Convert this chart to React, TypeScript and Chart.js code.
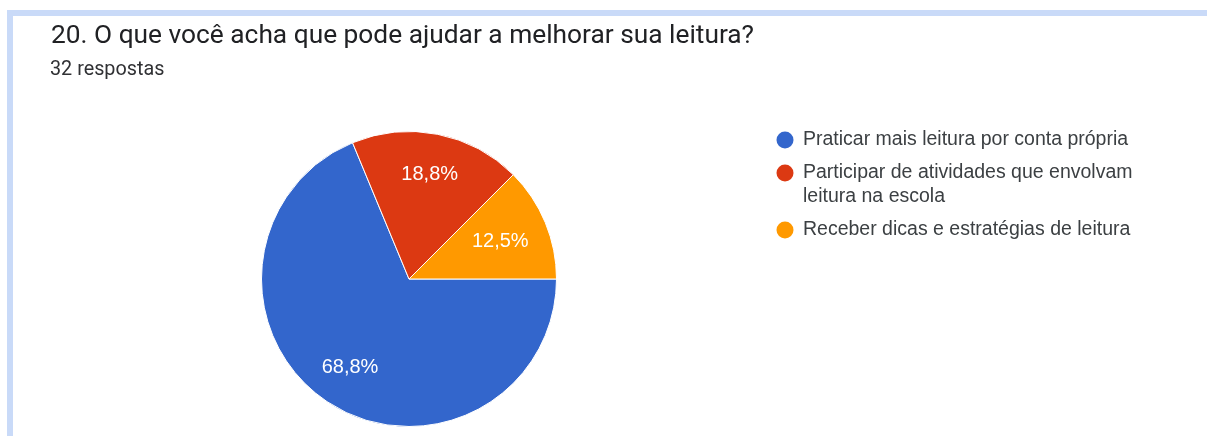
import React, { useEffect, useRef } from "react";
import { Chart, registerables } from "chart.js";

Chart.register(...registerables);

const title = "20. O que você acha que pode ajudar a melhorar sua leitura?";
const subtitle = "32 respostas";
const categories = [
  "Praticar mais leitura por conta própria",
  "Participar de atividades que envolvam leitura na escola",
  "Receber dicas e estratégias de leitura",
];
const legendLines = [
  ["Praticar mais leitura por conta própria"],
  ["Participar de atividades que envolvam", "leitura na escola"],
  ["Receber dicas e estratégias de leitura"],
];
const counts = [22, 6, 4];
const percentLabels = ["68,8%", "18,8%", "12,5%"];
const colors = ["#3366cc", "#dc3912", "#ff9900"];

const W = 1207;
const H = 436;

const framePlugin = {
  id: "frame",
  beforeDraw(chart: any) {
    const ctx = chart.ctx;
    ctx.save();
    ctx.fillStyle = "#ffffff";
    ctx.fillRect(0, 0, W, H);
    ctx.fillStyle = "#c9daf8";
    ctx.fillRect(7, 10, W - 7, 6);
    ctx.fillRect(7, 10, 6, H - 10);
    ctx.fillStyle = "#202124";
    ctx.textBaseline = "alphabetic";
    ctx.textAlign = "left";
    ctx.font = "26.3px Roboto";
    ctx.fillText(title, 51, 43);
    ctx.font = "19.8px Roboto";
    ctx.fillStyle = "#303134";
    ctx.fillText(subtitle, 50, 75);
    ctx.restore();
  },
};

const labelPlugin = {
  id: "sliceLabels",
  afterDatasetsDraw(chart: any) {
    const ctx = chart.ctx;
    const meta = chart.getDatasetMeta(0);
    ctx.save();
    ctx.fillStyle = "#ffffff";
    ctx.font = "20px 'Liberation Sans', Arial";
    ctx.textAlign = "center";
    ctx.textBaseline = "middle";
    meta.data.forEach((arc: any, i: number) => {
      const { x, y, startAngle, endAngle, outerRadius } = arc.getProps(
        ["x", "y", "startAngle", "endAngle", "outerRadius"],
        true
      );
      const mid = (startAngle + endAngle) / 2;
      const r = outerRadius * (i === 2 ? 0.67 : 0.72);
      ctx.fillText(percentLabels[i], x + Math.cos(mid) * r, y + Math.sin(mid) * r);
    });
    ctx.restore();
  },
};

const legendPlugin = {
  id: "customLegend",
  afterDraw(chart: any) {
    const ctx = chart.ctx;
    ctx.save();
    ctx.font = "19.5px 'Liberation Sans', Arial";
    ctx.textBaseline = "middle";
    ctx.textAlign = "left";
    let y = 140;
    legendLines.forEach((lines, i) => {
      ctx.fillStyle = colors[i];
      ctx.beginPath();
      ctx.arc(785, y, 8.5, 0, Math.PI * 2);
      ctx.fill();
      ctx.fillStyle = "#3c4043";
      lines.forEach((ln, j) => {
        ctx.fillText(ln, 803, y + j * 24);
      });
      y += (lines.length - 1) * 24 + 33;
    });
    ctx.restore();
  },
};

export default function App() {
  const ref = useRef<HTMLCanvasElement>(null);
  useEffect(() => {
    document.body.style.margin = "0";
    const chart = new Chart(ref.current!, {
      type: "pie",
      data: {
        labels: categories,
        datasets: [
          {
            data: counts,
            backgroundColor: colors,
            borderColor: "#ffffff",
            borderWidth: 1,
          },
        ],
      },
      options: {
        animation: false,
        responsive: false,
        rotation: 90,
        layout: { padding: { left: 261, right: 650, top: 131, bottom: 9 } },
        plugins: {
          legend: { display: false },
          tooltip: { enabled: false },
          title: { display: false },
        },
      },
      plugins: [framePlugin, labelPlugin, legendPlugin],
    });
    return () => chart.destroy();
  }, []);
  return (
    <div style={{ width: W, height: H }}>
      <canvas ref={ref} width={W} height={H} style={{ display: "block" }} />
    </div>
  );
}
